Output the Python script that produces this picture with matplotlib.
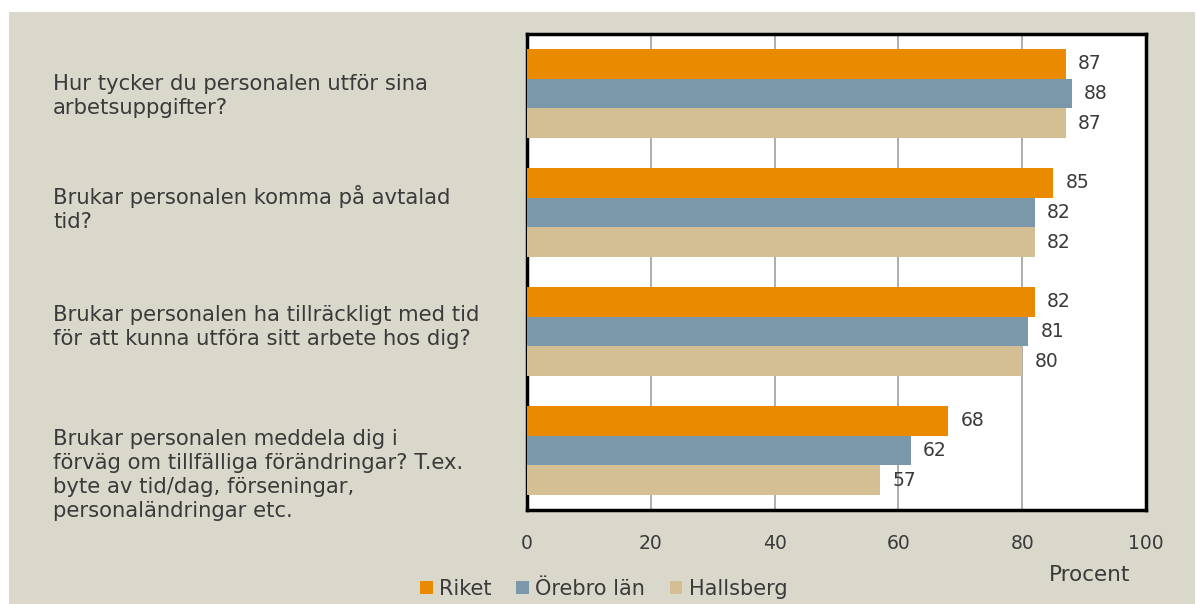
import matplotlib
matplotlib.use("Agg")
import matplotlib.pyplot as plt
import numpy as np
from matplotlib.patches import Rectangle

questions = [
    "Hur tycker du personalen utför sina\narbetsuppgifter?",
    "Brukar personalen komma på avtalad\ntid?",
    "Brukar personalen ha tillräckligt med tid\nför att kunna utföra sitt arbete hos dig?",
    "Brukar personalen meddela dig i\nförväg om tillfälliga förändringar? T.ex.\nbyte av tid/dag, förseningar,\npersonaländringar etc.",
]
series_names = ["Riket", "Örebro län", "Hallsberg"]
riket = [87, 85, 82, 68]
orebro = [88, 82, 81, 62]
hallsberg = [87, 82, 80, 57]
xticks = [0, 20, 40, 60, 80, 100]

colors = ["#EA8A00", "#7B98AB", "#D4BF95"]
bg = "#DAD7CB"
txt = "#3A3A3A"

plt.rcParams['font.family'] = ['DejaVu Sans']

W, H = 1197, 604
fig = plt.figure(figsize=(W / 100, H / 100), dpi=100)
fig.patch.set_facecolor("white")
fig.patches.append(Rectangle((9 / W, 0), (1195 - 9) / W, (H - 12) / H,
                             transform=fig.transFigure, facecolor=bg,
                             edgecolor="none", zorder=-10))

ax = fig.add_axes([527 / W, 1 - 510 / H, (1146 - 527) / W, (510 - 34) / H])
ax.set_facecolor("white")

n = len(questions)
bh = 0.25
y = np.arange(n)
for i, (vals, c) in enumerate(zip([riket, orebro, hallsberg], colors)):
    pos = y + (i - 1) * bh
    ax.barh(pos, vals, height=bh, color=c, label=series_names[i], zorder=3)
    for p, v in zip(pos, vals):
        ax.text(v + 2.0, p, str(v), va="center", ha="left", fontsize=13.5, color=txt)

ax.set_xlim(0, 100)
ax.set_ylim(n - 0.5, -0.5)
ax.set_xticks(xticks)
ax.set_xticklabels([str(t) for t in xticks], fontsize=13.5, color=txt)
ax.set_yticks([])
ax.tick_params(axis="x", length=0, pad=17)
ax.grid(axis="x", color="#A0A0A0", linewidth=1.2, zorder=0)
for s in ax.spines.values():
    s.set_linewidth(2.5)
    s.set_color("black")

# category labels
centers_px = [96, 208, 327, 475]
for q, cy in zip(questions, centers_px):
    fig.text(53 / W, 1 - cy / H, q, ha="left", va="center", fontsize=15.2,
             color=txt, linespacing=1.25)

fig.text(1090 / W, 1 - 575 / H, "Procent", ha="center", va="center",
         fontsize=15.5, color=txt)

handles = [Rectangle((0, 0), 1, 1, facecolor=c) for c in colors]
leg = fig.legend(handles, series_names, loc="center left",
                 bbox_to_anchor=(420 / W, 1 - 589 / H), ncol=3, frameon=False,
                 fontsize=15, handlelength=0.6, handleheight=0.6,
                 handletextpad=0.3, columnspacing=1.2, borderaxespad=0, borderpad=0)
for t in leg.get_texts():
    t.set_color(txt)

fig.savefig("out.png", dpi=100, facecolor=fig.get_facecolor())
